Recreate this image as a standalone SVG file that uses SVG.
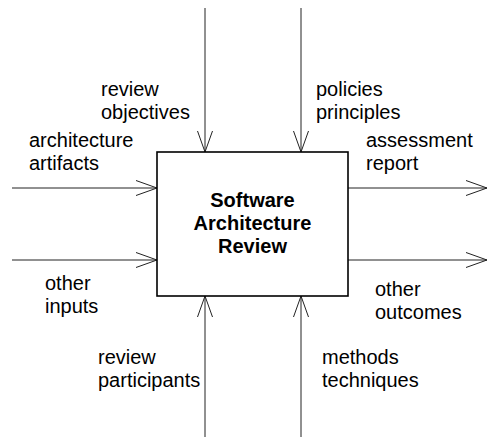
<svg xmlns="http://www.w3.org/2000/svg" width="488" height="441" viewBox="0 0 488 441">
  <style>
    .lbl { font-family: "Liberation Sans", Arial, sans-serif; font-size: 20px; fill: #000; }
    .title { font-family: "Liberation Sans", Arial, sans-serif; font-size: 20px; font-weight: bold; fill: #000; text-anchor: middle; }
    .conn { stroke: #222; stroke-width: 1; fill: none; marker-end: url(#open); }
    .box { fill: #fff; stroke: #000; stroke-width: 1.6; }
  </style>
  <defs>
    <marker id="open" markerUnits="userSpaceOnUse" markerWidth="24" markerHeight="18" viewBox="-22 -9 24 18" refX="0" refY="0" orient="auto">
      <path d="M-21,-7.5 L0,0 L-21,7.5" fill="none" stroke="#222" stroke-width="1"/>
    </marker>
  </defs>
  <rect width="488" height="441" fill="#fff"/>

  <!-- connectors: inputs, controls, mechanisms, outputs -->
  <g id="connectors">
    <line class="conn" x1="205" y1="8" x2="205" y2="152"/>
    <line class="conn" x1="301" y1="8" x2="301" y2="152"/>
    <line class="conn" x1="12" y1="188" x2="157" y2="188"/>
    <line class="conn" x1="12" y1="260" x2="157" y2="260"/>
    <line class="conn" x1="348" y1="188" x2="487" y2="188"/>
    <line class="conn" x1="348" y1="260" x2="487" y2="260"/>
    <line class="conn" x1="205" y1="437" x2="205" y2="296"/>
    <line class="conn" x1="301" y1="437" x2="301" y2="296"/>
  </g>

  <!-- central activity -->
  <g id="review-node">
    <rect class="box" x="157" y="152" width="191" height="144"/>
    <text class="title" x="252.5" y="207">Software</text>
    <text class="title" x="252.5" y="230">Architecture</text>
    <text class="title" x="252.5" y="253">Review</text>
  </g>

  <g id="review-objectives">
    <text class="lbl" x="101" y="96">review</text>
    <text class="lbl" x="101" y="119">objectives</text>
  </g>
  <g id="policies-principles">
    <text class="lbl" x="316" y="96">policies</text>
    <text class="lbl" x="316" y="119">principles</text>
  </g>
  <g id="architecture-artifacts">
    <text class="lbl" x="29" y="147">architecture</text>
    <text class="lbl" x="29" y="170">artifacts</text>
  </g>
  <g id="assessment-report">
    <text class="lbl" x="366" y="147">assessment</text>
    <text class="lbl" x="366" y="170">report</text>
  </g>
  <g id="other-inputs">
    <text class="lbl" x="45" y="290">other</text>
    <text class="lbl" x="45" y="313">inputs</text>
  </g>
  <g id="other-outcomes">
    <text class="lbl" x="375" y="296">other</text>
    <text class="lbl" x="375" y="319">outcomes</text>
  </g>
  <g id="review-participants">
    <text class="lbl" x="98" y="364">review</text>
    <text class="lbl" x="98" y="387">participants</text>
  </g>
  <g id="methods-techniques">
    <text class="lbl" x="322" y="364">methods</text>
    <text class="lbl" x="322" y="387">techniques</text>
  </g>
</svg>
